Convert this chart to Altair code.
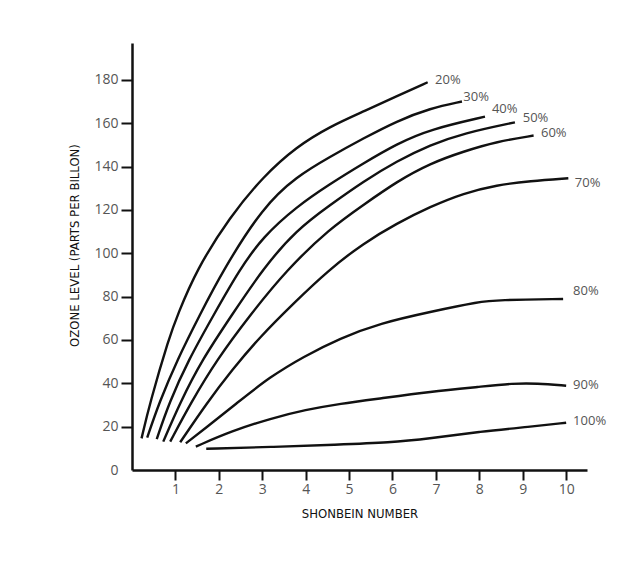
import altair as alt
import pandas as pd

# ---- data ----
curve_labels = ["20%", "30%", "40%", "50%", "60%", "70%", "80%", "90%", "100%"]

x20 = [0.22, 0.41, 0.86, 1.05, 1.48, 2.26, 3.02, 3.79, 4.56, 5.33, 6.10, 6.81]
y20 = [14.6, 30.8, 61.5, 71.5, 92.3, 116.9, 135.4, 149.2, 158.5, 165.4, 172.5, 178.9]

x30 = [0.35, 0.62, 1.04, 1.56, 2.10, 3.02, 3.79, 4.56, 5.33, 6.10, 6.87, 7.60]
y30 = [14.9, 30.8, 50.8, 71.5, 92.3, 121.5, 135.4, 144.5, 153.0, 161.0, 166.9, 170.0]

x40 = [0.57, 0.85, 1.30, 1.88, 2.47, 3.02, 3.79, 4.56, 5.33, 6.10, 6.87, 8.13]
y40 = [14.2, 30.8, 50.8, 71.5, 92.3, 107.7, 121.5, 132.0, 141.5, 150.5, 157.2, 163.0]

x50 = [0.72, 1.10, 1.61, 2.30, 3.02, 3.79, 4.56, 5.33, 6.10, 6.87, 7.64, 8.82]
y50 = [13.1, 30.8, 50.8, 71.5, 93.0, 110.8, 122.2, 133.1, 142.5, 150.0, 155.4, 160.4]

x60 = [0.88, 1.35, 1.95, 2.72, 3.56, 4.56, 5.33, 6.10, 6.87, 7.64, 8.40, 9.25]
y60 = [13.1, 30.8, 50.8, 71.5, 92.3, 111.5, 122.3, 133.1, 141.5, 147.0, 151.5, 154.3]

x70 = [1.11, 1.72, 2.30, 2.95, 3.72, 4.53, 5.33, 6.10, 6.87, 7.64, 8.40, 9.17, 10.05]
y70 = [12.8, 30.8, 46.1, 61.5, 76.9, 92.3, 104.6, 113.8, 121.5, 127.7, 131.5, 133.3, 134.6]

x80 = [1.24, 1.64, 2.41, 3.18, 3.95, 4.79, 5.71, 6.87, 8.02, 8.40, 9.93]
y80 = [12.3, 18.5, 30.8, 43.0, 52.3, 60.8, 67.7, 73.0, 77.7, 78.4, 78.9]

x90 = [1.47, 2.30, 3.20, 4.00, 4.79, 5.71, 6.87, 8.02, 8.78, 9.32, 10.00]
y90 = [10.8, 18.0, 23.8, 27.8, 30.6, 33.0, 36.1, 38.4, 40.0, 40.0, 38.9]

x100 = [1.71, 3.20, 4.70, 5.94, 6.87, 8.02, 9.17, 10.00]
y100 = [9.8, 10.6, 11.7, 12.6, 14.6, 17.7, 20.0, 21.8]

# label anchor positions (data units)
label_x = [6.98, 7.63, 8.29, 9.00, 9.42, 10.20, 10.16, 10.16, 10.16]
label_y = [179.7, 172.3, 166.6, 162.4, 155.7, 132.6, 82.7, 39.2, 22.7]

x_ticks = [1, 2, 3, 4, 5, 6, 7, 8, 9, 10]
y_ticks = [0, 20, 40, 60, 80, 100, 120, 140, 160, 180]

xs_all = [x20, x30, x40, x50, x60, x70, x80, x90, x100]
ys_all = [y20, y30, y40, y50, y60, y70, y80, y90, y100]

rows = []
for lab, xs, ys in zip(curve_labels, xs_all, ys_all):
    for xv, yv in zip(xs, ys):
        rows.append({"curve": lab, "x": xv, "y": yv})
df = pd.DataFrame(rows)
df_lab = pd.DataFrame({"curve": curve_labels, "x": label_x, "y": label_y})

LABEL_FONT = "Open Sans"
TITLE_FONT = "DejaVu Sans Condensed, Liberation Sans Narrow, Roboto, sans-serif"

xscale = alt.Scale(domain=[0, 10.48], nice=False, zero=False)
yscale = alt.Scale(domain=[0, 197], nice=False, zero=False)

xaxis = alt.Axis(
    title="SHONBEIN NUMBER", values=x_ticks, grid=False,
    domainColor="#111", domainWidth=2.5, tickColor="#111", tickWidth=2, tickSize=10,
    labelColor="#555", labelFontSize=14, labelFont=LABEL_FONT, labelPadding=2,
    titleFont=TITLE_FONT, titleFontSize=13, titleFontWeight="normal",
    titleColor="#111", titlePadding=11,
)
yaxis = alt.Axis(
    title="OZONE LEVEL (PARTS PER BILLON)", values=y_ticks, grid=False,
    domainColor="#111", domainWidth=2.5,
    tickColor={"condition": {"test": "datum.value === 0", "value": "transparent"}, "value": "#111"},
    tickWidth=2, tickSize=11,
    labelColor="#555", labelFontSize=14, labelFont=LABEL_FONT, labelPadding=3,
    titleFont=TITLE_FONT, titleFontSize=13, titleFontWeight="normal",
    titleColor="#111", titlePadding=12, titleY=202,
)

lines = alt.Chart(df).mark_line(
    color="#111", strokeWidth=2.4, interpolate="basis", strokeCap="butt"
).encode(
    x=alt.X("x:Q", scale=xscale, axis=xaxis),
    y=alt.Y("y:Q", scale=yscale, axis=yaxis),
    detail="curve:N",
)

labels = alt.Chart(df_lab).mark_text(
    align="left", baseline="middle", font=LABEL_FONT, fontSize=13, color="#555"
).encode(
    x=alt.X("x:Q", scale=xscale),
    y=alt.Y("y:Q", scale=yscale),
    text="curve:N",
)

chart = alt.layer(lines, labels).properties(
    width=455, height=427,
    autosize=alt.AutoSizeParams(type="none"),
    padding={"left": 124, "top": 35, "right": 38, "bottom": 101},
    background="white",
).configure_view(stroke=None)

chart.save("out.html", embed_options={"renderer": "svg", "actions": False})
